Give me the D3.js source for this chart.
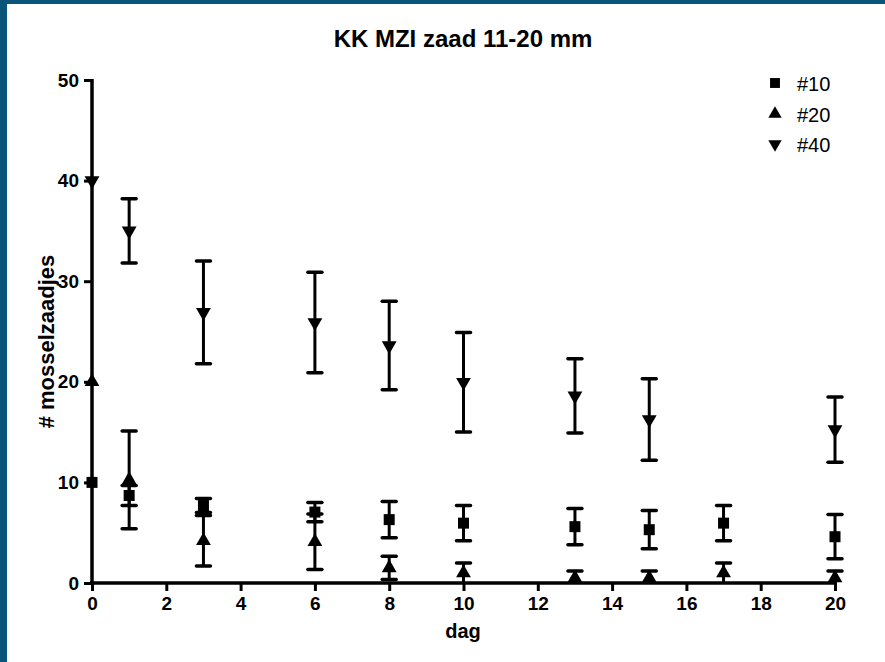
<!DOCTYPE html>
<html>
<head>
<meta charset="utf-8">
<script src="https://cdn.jsdelivr.net/npm/d3@7"></script>
<style>
  html, body { margin: 0; padding: 0; background: #fff; }
  svg { display: block; font-family: "Liberation Sans", Arial, sans-serif; }
</style>
</head>
<body>
<svg id="chart" width="885" height="662"></svg>
<script>
// ---- data ----
const title = "KK MZI zaad 11-20 mm";
const xLabel = "dag";
const yLabel = "# mosselzaadjes";
const xTicks = [0, 2, 4, 6, 8, 10, 12, 14, 16, 18, 20];
const yTicks = [0, 10, 20, 30, 40, 50];
const seriesNames = ["#10", "#20", "#40"];

const days10 = [0, 1, 3, 6, 8, 10, 13, 15, 17, 20];
const mean10 = [10, 8.7, 7.7, 7.05, 6.3, 5.95, 5.6, 5.3, 5.95, 4.6];
const err10  = [0, 1.0, 0.7, 0.95, 1.8, 1.75, 1.8, 1.9, 1.75, 2.2];

const days20 = [0, 1, 3, 6, 8, 10, 13, 15, 17, 20];
const mean20 = [20, 10.25, 4.2, 4.1, 1.5, 1.0, 0.5, 0.5, 1.0, 0.5];
const err20  = [0, 4.85, 2.5, 2.75, 1.15, 1.0, 0.7, 0.7, 1.0, 0.7];

const days40 = [0, 1, 3, 6, 8, 10, 13, 15, 20];
const mean40 = [40, 35.0, 26.9, 25.9, 23.6, 19.95, 18.6, 16.25, 15.25];
const err40  = [0, 3.2, 5.1, 5.0, 4.4, 4.95, 3.7, 4.05, 3.25];

// ---- layout ----
const svg = d3.select("#chart");
const W = 885, H = 662;
const border = "#0b5479";

svg.append("rect").attr("x", 0).attr("y", 0).attr("width", W).attr("height", H).attr("fill", border);
svg.append("rect").attr("x", 7).attr("y", 4).attr("width", W - 7).attr("height", H - 4).attr("fill", "#fff");

const x = d3.scaleLinear().domain([0, 20]).range([92, 835]);
const y = d3.scaleLinear().domain([0, 50]).range([583, 80]);

// title
svg.append("text").attr("x", 463).attr("y", 47).attr("text-anchor", "middle")
  .attr("font-weight", "bold").attr("font-size", 24).text(title);

// axes
const xAxis = d3.axisBottom(x).tickValues(xTicks).tickSize(8).tickPadding(6).tickSizeOuter(0);
const yAxis = d3.axisLeft(y).tickValues(yTicks).tickSize(8).tickPadding(5).tickSizeOuter(0);

const gx = svg.append("g").attr("transform", `translate(0,${y(0)})`).call(xAxis);
const gy = svg.append("g").attr("transform", `translate(${x(0)},0)`).call(yAxis);

[gx, gy].forEach(g => {
  g.attr("font-size", 19).attr("font-family", "Liberation Sans, Arial, sans-serif");
  g.select(".domain").attr("stroke", "#000").attr("stroke-width", 3.5);
  g.selectAll(".tick line").attr("stroke", "#000").attr("stroke-width", 3);
  g.selectAll(".tick text").attr("font-size", 19).attr("font-weight", "bold").attr("fill", "#000");
});
gx.select(".domain").attr("d", `M${x(0) - 2},0H${x(20) + 2}`);
gy.select(".domain").attr("d", `M0,${y(0) + 2}V${y(50) - 1}`);

// axis labels
svg.append("text").attr("x", 463).attr("y", 638).attr("text-anchor", "middle")
  .attr("font-weight", "bold").attr("font-size", 20).text(xLabel);
svg.append("text").attr("transform", `translate(54,${y(25) + 10}) rotate(-90)`)
  .attr("text-anchor", "middle").attr("font-weight", "bold").attr("font-size", 22).text(yLabel);

// series
const series = [
  { name: seriesNames[0], days: days10, mean: mean10, err: err10, sym: "square" },
  { name: seriesNames[1], days: days20, mean: mean20, err: err20, sym: "up" },
  { name: seriesNames[2], days: days40, mean: mean40, err: err40, sym: "down" }
];

function symPath(kind, scale) {
  scale = scale || 1;
  if (kind === "square") return d3.symbol(d3.symbolSquare, 121 * scale * scale)();
  return d3.symbol(d3.symbolTriangle, 95 * scale * scale)();
}

const capW = 7;
series.forEach(s => {
  const g = svg.append("g");
  const pts = s.days.map((d, i) => ({ d, m: s.mean[i], e: s.err[i] }));
  pts.filter(p => p.e > 0).forEach(p => {
    const lo = Math.max(0, p.m - p.e), hi = p.m + p.e;
    g.append("line").attr("x1", x(p.d)).attr("x2", x(p.d)).attr("y1", y(hi)).attr("y2", y(lo))
      .attr("stroke", "#000").attr("stroke-width", 3);
    g.append("line").attr("x1", x(p.d) - capW).attr("x2", x(p.d) + capW).attr("y1", y(hi)).attr("y2", y(hi))
      .attr("stroke", "#000").attr("stroke-width", 3.5).attr("stroke-linecap", "round");
    if (p.m - p.e > 0) {
      g.append("line").attr("x1", x(p.d) - capW).attr("x2", x(p.d) + capW).attr("y1", y(lo)).attr("y2", y(lo))
        .attr("stroke", "#000").attr("stroke-width", 3.5).attr("stroke-linecap", "round");
    }
  });
});

series.forEach(s => {
  const g = svg.append("g");
  s.days.forEach((d, i) => {
    const rot = s.sym === "down" ? " rotate(180)" : "";
    g.append("path").attr("d", symPath(s.sym))
      .attr("transform", `translate(${x(d)},${y(s.mean[i])})${rot}`)
      .attr("fill", "#000");
  });
});

// legend
const legendY = [83, 114, 144];
series.forEach((s, i) => {
  const rot = s.sym === "down" ? " rotate(180)" : "";
  svg.append("path").attr("d", symPath(s.sym, 0.9))
    .attr("transform", `translate(775,${legendY[i]})${rot}`).attr("fill", "#000");
  svg.append("text").attr("x", 797).attr("y", legendY[i] + 8)
    .attr("font-size", 20).attr("fill", "#000").text(s.name);
});
</script>
</body>
</html>
